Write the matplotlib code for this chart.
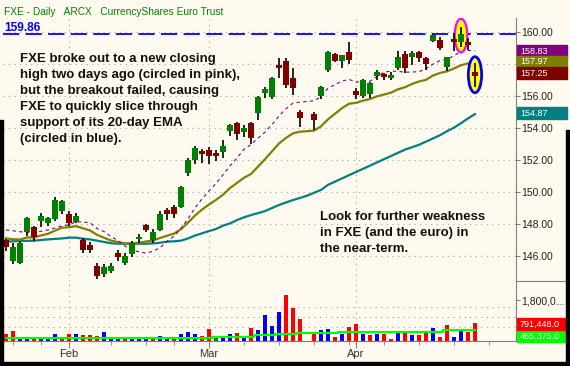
import numpy as np
import matplotlib.pyplot as plt
from matplotlib.patches import Rectangle, Ellipse

plt.rcParams['font.family'] = ['Liberation Sans', 'DejaVu Sans']

W, H = 570, 366
BG = '#FFFAF0'
nan = np.nan

# FXE daily, 18 Jan - 24 Apr 2008 (slot 43 = Good Friday, empty)
opens = [147.00, 145.71, 145.58, 147.52, 147.79, 148.21, 148.08, 148.29, 148.83, 148.60,
         148.14, 147.00, 146.69, 145.38, 144.88, 145.08, 146.17, 145.58, 146.13, 147.08,
         147.94, 147.00, 147.63, 148.88, 149.08, 149.08, 151.17, 152.00, 152.56, 152.63,
         152.42, 152.48, 153.81, 154.29, 153.73, 154.29, 154.92, 156.17, 155.96, 157.94,
         158.19, 157.15, 154.98, nan, 154.86, 156.02, 157.63, 158.60, 158.19, 158.77,
         156.31, 156.00, 156.10, 157.27, 157.35, 157.10, 157.73, 158.60, 158.46, 158.73,
         158.40, 159.44, 159.50, 157.83, 159.56, 159.40, 159.35, 157.52]
highs = [147.05, 146.79, 146.96, 148.42, 147.88, 148.67, 148.42, 149.71, 149.50, 148.79,
         148.67, 147.10, 146.90, 145.58, 145.50, 145.54, 146.38, 146.21, 146.96, 147.38,
         148.00, 147.67, 148.83, 148.98, 149.19, 150.40, 152.10, 152.90, 152.69, 152.83,
         152.63, 153.25, 154.25, 154.35, 154.19, 154.35, 156.02, 156.58, 157.21, 158.35,
         158.35, 157.73, 155.13, nan, 154.98, 156.65, 158.81, 158.67, 158.56, 159.40,
         156.48, 157.06, 156.85, 157.63, 157.46, 157.52, 158.81, 158.81, 158.81, 158.81,
         158.46, 159.85, 159.71, 158.46, 159.92, 160.33, 159.60, 158.04]
lows = [146.31, 145.50, 145.50, 147.25, 146.96, 147.79, 147.88, 148.21, 148.63, 147.88,
        148.08, 146.21, 146.21, 144.54, 144.71, 144.96, 145.71, 145.44, 145.92, 146.83,
        147.52, 146.83, 147.58, 148.25, 148.35, 149.02, 151.02, 151.73, 151.79, 151.73,
        151.94, 152.15, 153.52, 153.25, 153.46, 152.98, 154.50, 155.90, 155.81, 157.10,
        156.48, 156.06, 154.08, nan, 153.88, 155.81, 157.52, 158.10, 157.77, 157.98,
        155.81, 155.90, 155.85, 157.00, 157.00, 157.00, 157.63, 157.42, 157.94, 158.15,
        157.63, 159.35, 158.88, 157.56, 158.81, 159.08, 158.88, 156.58]
closes = [146.56, 146.58, 146.83, 148.36, 147.21, 148.52, 148.39, 149.50, 149.44, 148.08,
          148.50, 146.38, 146.38, 144.75, 145.33, 145.40, 145.96, 146.00, 146.79, 147.21,
          147.63, 147.52, 148.63, 148.63, 148.60, 150.33, 152.00, 152.73, 152.40, 152.27,
          152.27, 152.90, 154.19, 153.60, 153.98, 153.40, 155.96, 156.44, 157.15, 157.73,
          156.69, 156.48, 154.65, nan, 154.50, 156.58, 158.73, 158.19, 158.56, 158.25,
          156.06, 157.00, 156.79, 157.52, 157.21, 157.31, 158.46, 157.73, 158.67, 158.40,
          157.98, 159.81, 158.98, 158.46, 159.40, 159.86, 159.19, 157.25]

sma10 = [147.63, 147.58, 147.52, 147.48, 147.46, 147.55, 147.63, 147.75, 147.88, 147.95,
         148.14, 148.12, 148.08, 147.72, 147.53, 147.22, 146.97, 146.62, 146.36, 146.27,
         146.18, 146.30, 146.52, 146.91, 147.24, 147.73, 148.33, 149.01, 149.57, 150.07,
         150.54, 151.08, 151.63, 152.13, 152.67, 152.97, 153.37, 153.74, 154.22, 154.76,
         155.20, 155.56, 155.61, 155.66, 155.70, 155.96, 156.49, 156.71, 156.93, 157.04,
         156.87, 156.90, 156.93, 157.22, 157.49, 157.56, 157.54, 157.49, 157.50, 157.52,
         157.71, 157.99, 158.21, 158.30, 158.52, 158.78, 158.85, 158.83]
ema20 = [147.10, 147.05, 147.03, 147.16, 147.16, 147.29, 147.39, 147.59, 147.77, 147.80,
         147.87, 147.73, 147.60, 147.33, 147.14, 146.97, 146.87, 146.79, 146.79, 146.83,
         146.91, 146.97, 147.13, 147.27, 147.40, 147.68, 148.09, 148.53, 148.90, 149.22,
         149.51, 149.83, 150.25, 150.57, 150.89, 151.13, 151.59, 152.05, 152.54, 153.03,
         153.38, 153.67, 153.77, 153.80, 153.84, 154.10, 154.54, 154.89, 155.24, 155.52,
         155.57, 155.71, 155.81, 155.98, 156.09, 156.21, 156.42, 156.55, 156.75, 156.91,
         157.01, 157.28, 157.44, 157.54, 157.72, 157.92, 158.04, 157.97]
ma50 = [146.90, 146.92, 146.94, 146.95, 146.96, 147.00, 147.04, 147.07, 147.10, 147.15,
        147.15, 147.08, 147.04, 146.96, 146.88, 146.80, 146.77, 146.77, 146.77, 146.77,
        146.77, 146.79, 146.83, 146.90, 146.92, 146.96, 147.10, 147.28, 147.42, 147.56,
        147.69, 147.90, 148.04, 148.25, 148.42, 148.56, 148.68, 148.81, 149.00, 149.19,
        149.35, 149.50, 149.63, 149.77, 149.95, 150.13, 150.45, 150.65, 150.85, 151.05,
        151.25, 151.45, 151.65, 151.85, 152.05, 152.25, 152.45, 152.65, 152.80, 152.95,
        153.15, 153.35, 153.55, 153.80, 154.02, 154.30, 154.60, 154.87]

# volume in thousands of shares
volume = [310, 440, 175, 175, 90, 130, 90, 310, 130, 310, 310, 265, 265, 220, 395, 130, 130,
          90, 130, 130, 130, 130, 220, 90, 175, 310, 395, 310, 220, 530, 130, 130, 310, 350,
          220, 570, 485, 1145, 660, 1275, 2020, 1450, 955, nan, 365, 485, 530, 175, 310, 615,
          750, 310, 265, 310, 310, 90, 440, 440, 265, 265, 440, 570, 175, 705, 175, 440, 395,
          791.448]
vol_dir = "rrbbrbbbrrbrrrbbbrbbbrbbrbbbrrgbbrbrbbbbrrr-rbbrbrrbrbrrbrbrrbrrbbrr"
vol_avg = [145] * 16 + [120] * 14 + [190] * 6 + [265] * 3 + [320] * 3 + [365] * 6 + \
          [410] * 15 + [465.375] * 5

week_ticks = [1, 5, 15, 20, 24, 34, 39, 44, 49, 54, 59, 64, 69]
month_ticks = [9, 29, 50]
month_labels = ['Feb', 'Mar', 'Apr']
price_ticks = [146, 148, 150, 152, 154, 156, 158, 160]
breakout_close = 159.86


def px_rect(x0, y0, x1, y1):
    return [x0 / W, 1 - y1 / H, (x1 - x0) / W, (y1 - y0) / H]


fig = plt.figure(figsize=(W / 100, H / 100), dpi=100, facecolor=BG)
ax = fig.add_axes(px_rect(3, 18, 516, 281), facecolor=BG)
axv = fig.add_axes(px_rect(3, 281, 516, 341), facecolor=BG)

slots = np.arange(len(closes))
o = np.array(opens); c = np.array(closes)
hi = np.array(highs); lo = np.array(lows)
ok = ~np.isnan(c)

# grid
for p in price_ticks:
    ax.axhline(p, color='#A8A8A8', lw=0.8, dashes=(1, 4), zorder=0)
for m in month_ticks:
    ax.axvline(m, color='#A8A8A8', lw=0.8, dashes=(1, 4), zorder=0)
    axv.axvline(m, color='#A8A8A8', lw=0.8, dashes=(1, 4), zorder=0)
for v in [615, 1055, 1495]:
    axv.axhline(v, color='#A8A8A8', lw=0.8, dashes=(1, 4), zorder=0)

# moving averages
ax.plot(slots, ma50, color='#008080', lw=1.6, zorder=2)
ax.plot(slots, ema20, color='#808000', lw=1.6, zorder=2)
ax.plot(slots, sma10, color='#800080', lw=0.8, dashes=(3, 3), zorder=2)
ax.axhline(breakout_close, color='#0000FF', lw=1.3, dashes=(9, 3.5), zorder=2)

# circles
ax.add_patch(Ellipse((65, 159.78), 1.8, 2.1, facecolor='#FFFF00', edgecolor='#FF00FF',
                     lw=1.6, zorder=3))
ax.add_patch(Ellipse((67, 157.33), 1.9, 2.25, facecolor='#FFFF00', edgecolor='#0000FF',
                     lw=2.0, zorder=3))

# candles
up = c >= o
body_lo = np.minimum(o, c)
body_h = np.maximum(np.abs(c - o), 0.05)
ax.vlines(slots[ok], lo[ok], hi[ok], color='black', lw=1.2, zorder=4)
ax.bar(slots[ok], body_h[ok], bottom=body_lo[ok], width=0.8,
       color=np.where(up, '#008000', '#800000')[ok], edgecolor='none', zorder=5)

# volume
vcol = {'r': '#FF0000', 'b': '#0000FF', 'g': '#008000', '-': 'none'}
vol = np.array(volume, dtype=float)
axv.bar(slots[ok], vol[ok], width=0.45, color=[vcol[d] for d in vol_dir if d != '-'],
        zorder=2)
axv.plot(slots, vol_avg, color='#00FF00', lw=1.6, drawstyle='steps-mid', zorder=3)

# axes styling
ax.set_xlim(-0.43, 72.86)
ax.set_ylim(144.44, 160.875)
axv.set_xlim(-0.43, 72.86)
axv.set_ylim(0, 2637)

for a in (ax, axv):
    for s in ('left', 'top', 'bottom'):
        a.spines[s].set_visible(False)
    a.spines['right'].set_color('#808080')
    a.yaxis.tick_right()
    a.tick_params(axis='y', colors='#808080', labelcolor='#222222', labelsize=7.5,
                  length=3, pad=1)
axv.spines['bottom'].set_visible(True)
axv.spines['bottom'].set_color('#808080')

ax.set_xticks([])
ax.set_yticks(price_ticks)
# the 158.00 label sits under the value boxes, as in the original
ax.set_yticklabels(['' if p == 158 else f'{p:.2f}' for p in price_ticks])

axv.set_yticks([1800])
axv.set_yticklabels(['1,800,0...'])
axv.set_xticks(month_ticks)
axv.set_xticklabels(month_labels)
axv.set_xticks(week_ticks, minor=True)
axv.tick_params(axis='x', which='major', length=5, colors='#808080', labelcolor='#333333',
                labelsize=8, pad=1)
axv.tick_params(axis='x', which='minor', length=3, colors='#808080')

# title and notes
fig.text(4 / W, 1 - 12 / H, 'FXE - Daily   ARCX   CurrencyShares Euro Trust', color='#008000',
         fontsize=7.3, va='center', ha='left')
fig.text(4 / W, 1 - 28 / H, f'{breakout_close:.2f}', color='#0000FF', fontsize=8.6,
         fontweight='bold', va='center', ha='left')
fig.text(20 / W, 1 - 53 / H,
         'FXE broke out to a new closing\nhigh two days ago (circled in pink),\n'
         'but the breakout failed, causing\nFXE to quickly slice through\n'
         'support of its 20-day EMA\n(circled in blue).',
         fontsize=9.5, fontweight='bold', va='top', ha='left', linespacing=1.45,
         color='#111111')
fig.text(320 / W, 1 - 211 / H,
         'Look for further weakness\nin FXE (and the euro) in\nthe near-term.',
         fontsize=9.5, fontweight='bold', va='top', ha='left', linespacing=1.45,
         color='#111111')

# right-hand value boxes (last values)
boxes = [(51, f'{sma10[-1]:.2f}', '#800080'), (62, f'{ema20[-1]:.2f}', '#808000'),
         (73, f'{closes[-1]:.2f}', '#800000'), (113, f'{ma50[-1]:.2f}', '#008080'),
         (336, f'{vol_avg[-1] * 1000:,.1f}', '#00FF00'),
         (324, f'{volume[-1] * 1000:,.1f}', '#FF0000')]
for k, (yc, txt, col) in enumerate(boxes):
    hgt = 12 if col in ('#FF0000', '#00FF00', '#008080') else 11
    fig.add_artist(Rectangle((517 / W, 1 - (yc + hgt / 2) / H), 50 / W, hgt / H,
                             transform=fig.transFigure, color=col, zorder=5 + k))
    fig.text(520 / W, 1 - yc / H, txt, color='white', fontsize=6.5, va='center',
             ha='left', zorder=5 + k)

# panel separator on the axis side
fig.add_artist(plt.Line2D([516 / W, 566 / W], [1 - 281 / H] * 2, color='#808080', lw=0.8))

# dark frame edges of the screenshot
for r in [(0, 120, 3, 366), (566, 130, 570, 366), (0, 362, 570, 366)]:
    fig.add_artist(Rectangle((r[0] / W, 1 - r[3] / H), (r[2] - r[0]) / W, (r[3] - r[1]) / H,
                             transform=fig.transFigure, color='black', zorder=20))

fig.savefig('out.png', dpi=100, facecolor=BG)
